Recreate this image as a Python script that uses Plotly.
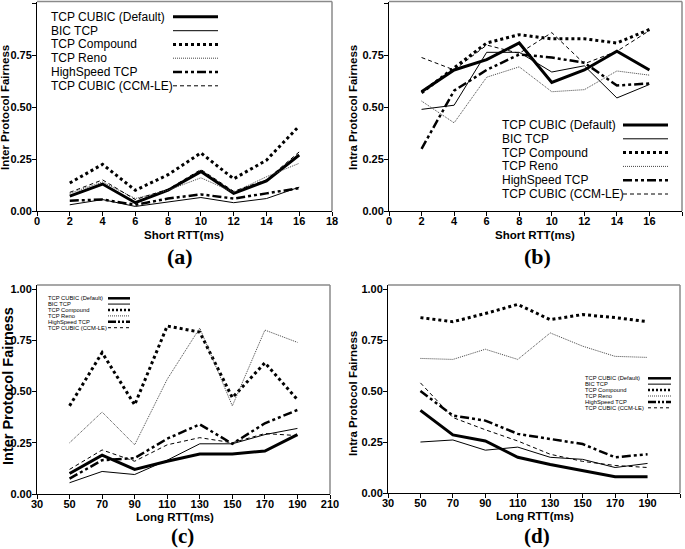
import plotly.graph_objects as go

W, H = 685, 549

series_names = ["TCP CUBIC (Default)", "BIC TCP", "TCP Compound", "TCP Reno",
                "HighSpeed TCP", "TCP CUBIC (CCM-LE)"]

short_rtt = [2, 4, 6, 8, 10, 12, 14, 16]
long_rtt = [50, 70, 90, 110, 130, 150, 170, 190]

short_ticks = [0, 2, 4, 6, 8, 10, 12, 14, 16, 18]
long_ticks = [30, 50, 70, 90, 110, 130, 150, 170, 190, 210]
y_ticks = [0.0, 0.25, 0.5, 0.75, 1.0]
y_ticklabels = ["0.00", "0.25", "0.50", "0.75", "1.00"]

# (a) Inter protocol fairness vs short RTT
a_cubic = [0.072, 0.13, 0.04, 0.10, 0.19, 0.085, 0.145, 0.27]
a_bic = [0.03, 0.055, 0.022, 0.045, 0.065, 0.04, 0.06, 0.115]
a_compound = [0.135, 0.225, 0.10, 0.175, 0.28, 0.155, 0.245, 0.41]
a_reno = [0.085, 0.14, 0.06, 0.10, 0.16, 0.09, 0.165, 0.23]
a_highspeed = [0.05, 0.055, 0.03, 0.06, 0.08, 0.06, 0.085, 0.11]
a_ccmle = [0.09, 0.15, 0.055, 0.105, 0.20, 0.095, 0.15, 0.285]

# (b) Intra protocol fairness vs short RTT
b_cubic = [0.575, 0.68, 0.73, 0.81, 0.62, 0.68, 0.77, 0.68]
b_bic = [0.49, 0.51, 0.765, 0.765, 0.67, 0.70, 0.545, 0.61]
b_compound = [0.57, 0.69, 0.81, 0.85, 0.83, 0.83, 0.81, 0.875]
b_reno = [0.53, 0.425, 0.645, 0.695, 0.575, 0.585, 0.675, 0.655]
b_highspeed = [0.30, 0.58, 0.68, 0.755, 0.74, 0.715, 0.605, 0.615]
b_ccmle = [0.74, 0.68, 0.80, 0.76, 0.86, 0.71, 0.77, 0.87]

# (c) Inter protocol fairness vs long RTT
c_cubic = [0.10, 0.19, 0.12, 0.16, 0.195, 0.195, 0.21, 0.29]
c_bic = [0.055, 0.11, 0.095, 0.165, 0.245, 0.245, 0.29, 0.32]
c_compound = [0.43, 0.69, 0.435, 0.82, 0.79, 0.47, 0.64, 0.46]
c_reno = [0.25, 0.40, 0.24, 0.56, 0.81, 0.43, 0.80, 0.74]
c_highspeed = [0.075, 0.165, 0.175, 0.27, 0.34, 0.245, 0.345, 0.41]
c_ccmle = [0.12, 0.215, 0.16, 0.24, 0.275, 0.25, 0.295, 0.285]

# (d) Intra protocol fairness vs long RTT
d_cubic = [0.405, 0.285, 0.255, 0.175, 0.14, 0.11, 0.08, 0.08]
d_bic = [0.25, 0.26, 0.21, 0.225, 0.175, 0.165, 0.125, 0.145]
d_compound = [0.86, 0.84, 0.88, 0.925, 0.85, 0.875, 0.86, 0.84]
d_reno = [0.66, 0.655, 0.705, 0.655, 0.785, 0.72, 0.67, 0.665]
d_highspeed = [0.50, 0.38, 0.355, 0.29, 0.265, 0.24, 0.175, 0.19]
d_ccmle = [0.54, 0.37, 0.31, 0.255, 0.19, 0.155, 0.135, 0.125]

# line styles (same order as series_names)
styles = [
    dict(color="black", width=3, dash="solid"),
    dict(color="black", width=1, dash="solid"),
    dict(color="black", width=3, dash="3px,3px"),
    dict(color="#444444", width=1, dash="1px,1px"),
    dict(color="black", width=2.5, dash="9px,3px,3px,3px,3px,3px"),
    dict(color="black", width=1, dash="4px,3px"),
]
small_styles = [
    dict(color="black", width=2.5, dash="solid"),
    dict(color="#555555", width=1.5, dash="solid"),
    dict(color="black", width=2.5, dash="2px,2px"),
    dict(color="#444444", width=1, dash="1px,1px"),
    dict(color="black", width=2.5, dash="8px,2px,2px,2px,2px,2px"),
    dict(color="black", width=1, dash="3px,3px"),
]

FONT = "Liberation Sans"

panels = [
    dict(key="", x=short_rtt, data=[a_cubic, a_bic, a_compound, a_reno, a_highspeed, a_ccmle],
         xdom=(37, 332), ytop=1.5, ybot=211, xr=[0, 18], yr=[0, 1.01], xt=short_ticks),
    dict(key="2", x=short_rtt, data=[b_cubic, b_bic, b_compound, b_reno, b_highspeed, b_ccmle],
         xdom=(389, 682), ytop=1.5, ybot=211, xr=[0, 18], yr=[0, 1.01], xt=short_ticks),
    dict(key="3", x=long_rtt, data=[c_cubic, c_bic, c_compound, c_reno, c_highspeed, c_ccmle],
         xdom=(37, 330), ytop=285, ybot=494, xr=[30, 210], yr=[0, 1.02], xt=long_ticks),
    dict(key="4", x=long_rtt, data=[d_cubic, d_bic, d_compound, d_reno, d_highspeed, d_ccmle],
         xdom=(388, 680), ytop=285, ybot=493, xr=[30, 210], yr=[0, 1.02], xt=long_ticks),
]

fig = go.Figure()
layout = dict(width=W, height=H, margin=dict(l=0, r=0, t=0, b=0, autoexpand=False),
              paper_bgcolor="white", plot_bgcolor="white", showlegend=False)
shapes = []
annotations = []

def px(x):
    return x / W

def py(y):
    return 1 - y / H

for p in panels:
    k = p["key"]
    for name, vals, st in zip(series_names, p["data"], styles):
        fig.add_trace(go.Scatter(x=p["x"], y=vals, mode="lines", name=name,
                                 line=st, xaxis="x" + k, yaxis="y" + k, cliponaxis=False))
    axfont = dict(family=FONT, size=11, color="black", weight="bold")
    layout["xaxis" + k] = dict(domain=[px(p["xdom"][0]), px(p["xdom"][1])], range=p["xr"],
                               anchor="y" + k, tickvals=p["xt"], ticks="outside", ticklen=4,
                               tickcolor="black", showline=True, linecolor="black", linewidth=1,
                               showgrid=False, zeroline=False, tickfont=axfont, automargin=False,
                               ticklabelstandoff=-4)
    layout["yaxis" + k] = dict(domain=[py(p["ybot"]), py(p["ytop"])], range=p["yr"],
                               anchor="x" + k, tickvals=y_ticks, ticktext=y_ticklabels,
                               ticks="outside", ticklen=4, tickcolor="black", showline=True,
                               linecolor="black", linewidth=1, showgrid=False, zeroline=False,
                               tickfont=axfont, automargin=False, ticklabelstandoff=-2)
    # gray top and right frame
    shapes.append(dict(type="line", xref="x" + k + " domain", yref="y" + k + " domain",
                       x0=0, x1=1, y0=1, y1=1, line=dict(color="#8a8a8a", width=1.5)))
    shapes.append(dict(type="line", xref="x" + k + " domain", yref="y" + k + " domain",
                       x0=1, x1=1, y0=0, y1=1, line=dict(color="#8a8a8a", width=1.5)))

# legends: text on the left, line sample on the right
legends = [
    dict(tx=49, rows=[16.7, 30.7, 44.4, 58.2, 72, 85.8], sx=(173, 218), size=12, st=styles),
    dict(tx=500, rows=[125, 138.8, 152.5, 166.4, 180.3, 194], sx=(623, 668), size=12, st=styles),
    dict(tx=45.5, rows=[298.3, 304.1, 310, 315.9, 321.8, 327.7], sx=(108, 130), size=5.8, st=small_styles),
    dict(tx=583, rows=[378.3, 384.2, 390.1, 396, 401.9, 407.8], sx=(648, 671), size=5.8, st=small_styles),
]
for lg in legends:
    for name, y, st in zip(series_names, lg["rows"], lg["st"]):
        annotations.append(dict(text=name, x=px(lg["tx"]), y=py(y), xref="paper", yref="paper",
                                xanchor="left", yanchor="middle", showarrow=False,
                                font=dict(family=FONT, size=lg["size"], color="black")))
        shapes.append(dict(type="line", xref="paper", yref="paper",
                           x0=px(lg["sx"][0]), x1=px(lg["sx"][1]), y0=py(y), y1=py(y),
                           line=st))

def label(text, x, y, size, angle=0, family=FONT, weight="bold"):
    annotations.append(dict(text=text, x=px(x), y=py(y), xref="paper", yref="paper",
                            xanchor="center", yanchor="middle", showarrow=False, textangle=angle,
                            font=dict(family=family, size=size, color="black", weight=weight)))

label("Short RTT(ms)", 184, 235, 11.5)
label("Short RTT(ms)", 535, 235, 11.5)
label("Long RTT(ms)", 175, 517, 11.5)
label("Long RTT(ms)", 535, 516, 11.5)
label("Inter Protocol Fairness", 5, 108, 11.5, angle=-90)
label("Intra Protocol Fairness", 353, 107, 11.5, angle=-90)
label("Inter Protocol Fairness", 8, 386, 14.5, angle=-90)
label("Intra Protocol Fairness", 353, 393, 11.5, angle=-90)
label("(a)", 180, 257, 22, family="Liberation Serif")
label("(b)", 537, 257, 22, family="Liberation Serif")
label("(c)", 183, 536, 21, family="Liberation Serif")
label("(d)", 537, 536, 21, family="Liberation Serif")

layout["shapes"] = shapes
layout["annotations"] = annotations
fig.update_layout(**layout)
fig.write_html("out.html", config={"displayModeBar": False},
               post_script="document.body.style.margin='0';document.body.style.overflow='hidden';")
